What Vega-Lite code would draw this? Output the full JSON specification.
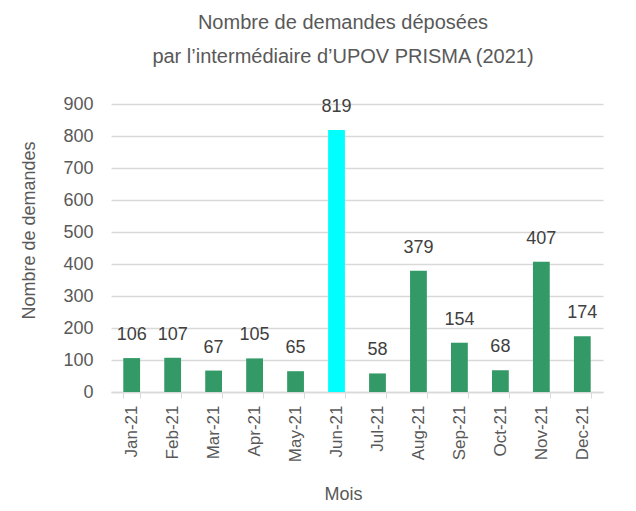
{
  "$schema": "https://vega.github.io/schema/vega-lite/v6.json",
  "width": 492,
  "height": 288,
  "autosize": {"type": "none"},
  "padding": {"left": 111, "top": 104, "right": 33, "bottom": 119},
  "background": "white",
  "config": {
    "font": "Liberation Sans",
    "view": {"stroke": null}
  },
  "title": {
    "text": ["Nombre de demandes déposées", "par l’intermédiaire d’UPOV PRISMA (2021)"],
    "font": "Liberation Sans",
    "fontSize": 20,
    "fontWeight": "normal",
    "color": "#595959",
    "lineHeight": 34,
    "offset": 28,
    "dx": -14,
    "anchor": "middle"
  },
  "data": {
    "values": [
      {"mois": "Jan-21", "demandes": 106},
      {"mois": "Feb-21", "demandes": 107},
      {"mois": "Mar-21", "demandes": 67},
      {"mois": "Apr-21", "demandes": 105},
      {"mois": "May-21", "demandes": 65},
      {"mois": "Jun-21", "demandes": 819},
      {"mois": "Jul-21", "demandes": 58},
      {"mois": "Aug-21", "demandes": 379},
      {"mois": "Sep-21", "demandes": 154},
      {"mois": "Oct-21", "demandes": 68},
      {"mois": "Nov-21", "demandes": 407},
      {"mois": "Dec-21", "demandes": 174}
    ]
  },
  "encoding": {
    "x": {
      "field": "mois",
      "type": "nominal",
      "sort": null,
      "scale": {"paddingInner": 0.59, "paddingOuter": 0.3},
      "axis": {
        "title": "Mois",
        "titleFont": "Liberation Sans",
        "titleFontSize": 18,
        "titleFontWeight": "normal",
        "titleColor": "#595959",
        "titlePadding": 24,
        "titleX": 232,
        "labelAngle": -90,
        "labelFontSize": 17,
        "labelColor": "#595959",
        "labelPadding": 7,
        "tickBand": "extent",
        "tickSize": 6,
        "tickColor": "#d9d9d9",
        "domainColor": "#d9d9d9",
        "domainWidth": 1.5,
        "grid": false
      }
    },
    "y": {
      "field": "demandes",
      "type": "quantitative",
      "scale": {"domain": [0, 900]},
      "axis": {
        "title": "Nombre de demandes",
        "titleFont": "Liberation Sans",
        "titleFontSize": 18,
        "titleFontWeight": "normal",
        "titleColor": "#595959",
        "titlePadding": 24,
        "titleY": 126,
        "values": [0, 100, 200, 300, 400, 500, 600, 700, 800, 900],
        "labelFontSize": 18,
        "labelColor": "#595959",
        "labelPadding": 18,
        "ticks": false,
        "domain": false,
        "gridColor": "#d9d9d9",
        "gridWidth": 1.5
      }
    }
  },
  "layer": [
    {
      "mark": {"type": "bar"},
      "encoding": {
        "color": {
          "condition": {"test": "datum.mois === 'Jun-21'", "value": "#00ffff"},
          "value": "#339966"
        }
      }
    },
    {
      "mark": {"type": "text", "baseline": "bottom", "dy": -14, "fontSize": 18, "color": "#404040"},
      "encoding": {
        "text": {"field": "demandes", "type": "quantitative"}
      }
    }
  ]
}
